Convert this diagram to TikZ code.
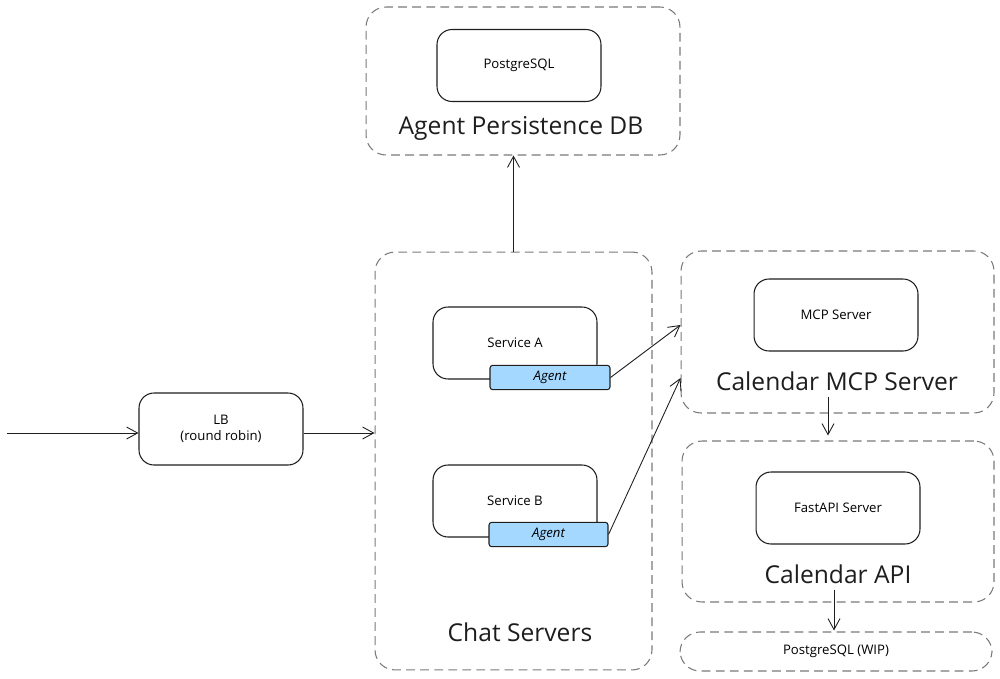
\documentclass[tikz,border=0pt]{standalone}
\usepackage{fontspec}
\setmainfont{Open Sans}
\usetikzlibrary{arrows.meta, positioning, calc}
\definecolor{CInk}{HTML}{1E1E1E}
\definecolor{CGroup}{HTML}{7A7A7A}
\definecolor{CAgent}{HTML}{A5D8FF}

\begin{document}
\begin{tikzpicture}[
    x=0.02cm, y=-0.02cm,
    % Reusable styles (units: 1 = one pixel of the sketch)
    group box/.style={draw=CGroup, dashed, dash pattern=on 5pt off 3pt, rounded corners=0.4cm, line width=0.6pt},
    service box/.style={draw=CInk, rounded corners=0.3cm, line width=0.6pt, minimum width=3.28cm, minimum height=1.44cm, font=\fontsize{7.5}{9}\selectfont, align=center},
    agent box/.style={draw=CInk, fill=CAgent, rounded corners=1.5pt, line width=0.6pt, minimum width=2.4cm, minimum height=0.42cm, font=\fontsize{7.5}{9}\selectfont\itshape},
    group label/.style={font=\fontsize{14}{16}\selectfont, text=CInk},
    link/.style={draw=CInk, line width=0.5pt, -{Straight Barb[length=2.2mm, width=2.4mm]}}
]
    \useasboundingbox (0,0) rectangle (1000,679);

    % -------------------------
    % Top: persistence database
    % -------------------------
    \node[group box, minimum width=6.28cm, minimum height=2.96cm] (dbgrp) at (523,81) {};
    \node[service box] (pgdb) at (519,65.5) {PostgreSQL};
    \node[group label] (dblbl) at (521,128) {Agent Persistence DB};

    % -------------------------
    % Left: entry + load balancer
    % -------------------------
    \coordinate (entry) at (7,433);
    \node[service box] (lb) at (221,429) {LB\\(round robin)};

    % -------------------------
    % Middle: chat servers
    % -------------------------
    \node[group box, minimum width=5.54cm, minimum height=8.36cm] (chat) at (513.5,461) {};
    \node[service box] (svcA) at (515,343) {Service A};
    \node[agent box] (agentA) at (550,377.5) {Agent};
    \node[service box] (svcB) at (515,501) {Service B};
    \node[agent box, minimum width=2.38cm] (agentB) at (548.5,534.5) {Agent};
    \node[group label] (chatlbl) at (520,632) {Chat Servers};

    % -------------------------
    % Right: calendar stack
    % -------------------------
    \node[group box, minimum width=6.26cm, minimum height=3.24cm] (mcpgrp) at (837.5,332) {};
    \node[service box] (mcpsrv) at (836,315) {MCP Server};
    \node[group label] (mcplbl) at (837,381) {Calendar MCP Server};

    \node[group box, minimum width=6.24cm, minimum height=3.22cm] (apigrp) at (838,521.5) {};
    \node[service box] (fastapi) at (838,508) {FastAPI Server};
    \node[group label] (apilbl) at (838,574) {Calendar API};

    \node[group box, minimum width=6.24cm, minimum height=0.78cm, font=\fontsize{7.5}{9}\selectfont] (wip) at (836,651.5) {PostgreSQL (WIP)};

    % Connectors
    \draw[link] (entry) -- (entry -| lb.west);
    \draw[link] (lb.east |- entry) -- (entry -| chat.west);
    \draw[link] (chat.north) -- (chat.north |- dbgrp.south);
    \draw[link] (agentA.east) -- ([yshift=0.14cm]mcpgrp.west);
    \draw[link] (agentB.east) -- ([yshift=-0.92cm]mcpgrp.west);
    \draw[link] (mcplbl.south -| 828,0) -- ($(apigrp.north -| 828,0)+(0,-5)$);
    \draw[link] (apilbl.south -| 834,0) -- ($(wip.north -| 834,0)+(0,-1)$);

\end{tikzpicture}
\end{document}
